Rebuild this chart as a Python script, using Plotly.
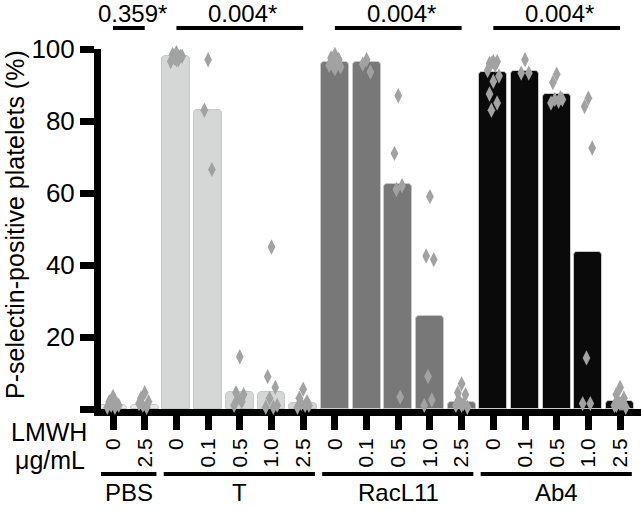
import plotly.graph_objects as go

# Groupes et concentrations de LMWH
GROUPS = ['PBS', 'T', 'RacL11', 'Ab4']
DOSES = {
    'PBS': ['0', '2.5'],
    'T': ['0', '0.1', '0.5', '1.0', '2.5'],
    'RacL11': ['0', '0.1', '0.5', '1.0', '2.5'],
    'Ab4': ['0', '0.1', '0.5', '1.0', '2.5'],
}
P_VALUES = ['0.359*', '0.004*', '0.004*', '0.004*']

# Hauteur des barres (%)
BARS = {
    'PBS': [1.0, 1.0],
    'T': [98, 83, 4.6, 4.8, 1.7],
    'RacL11': [96.5, 96.5, 62.5, 25.7, 2.0],
    'Ab4': [93.5, 94, 87.5, 43.7, 2.3],
}

# Valeurs individuelles (points)
POINTS = {
    'PBS': [[3.5, 2.0, 1.5, 1.0, 0.5, 0.5, 1.0, 2.5],
            [4.5, 3.0, 2.0, 1.0, 0.5, 1.5]],
    'T': [[99, 98.5, 98, 97.5, 97, 96.5, 98, 97],
          [97, 83, 66.5],
          [14.5, 4.5, 4, 3, 2, 1],
          [45, 9, 6, 3, 0.5, 0.5, 1],
          [5.5, 3, 2, 1.5, 1, 0.5, 1]],
    'RacL11': [[98.5, 97.5, 97, 96.5, 96, 95.5, 95, 94.5, 96, 97, 95.5, 96.5],
               [97, 95.8, 93.6],
               [87, 71, 62, 61, 3.3],
               [59, 42.5, 41.5, 9, 2.5, 1],
               [7, 4.5, 4, 2, 1.5, 1, 0.5, 1, 2]],
    'Ab4': [[96.5, 96, 96.5, 96, 95.5, 94, 92.5, 91, 87.5, 85, 83],
            [97, 93.3, 93.3],
            [93, 90.7, 86.5, 86, 85.5, 85, 86],
            [86.3, 84, 72.5, 14.2, 1.5, 1.5],
            [6, 4, 3, 2, 1.5, 1, 0.5, 1.5, 1]],
}

COLORS = {'PBS': '#e8e8e8', 'T': '#d5d6d6', 'RacL11': '#787878', 'Ab4': '#0a0a0a'}
FONT = 'Liberation Sans, Arial, sans-serif'

# bords de la zone de tracé, en pixels de la page
PLOT_TOP, PLOT_BOTTOM, PLOT_LEFT, PLOT_RIGHT = 49, 409, 101, 641


def py(ypix):
    return (PLOT_BOTTOM - ypix) / (PLOT_BOTTOM - PLOT_TOP)


def px(xpix):
    return (xpix - PLOT_LEFT) / (PLOT_RIGHT - PLOT_LEFT)


JITTER = [0, -0.12, 0.12, -0.06, 0.06, -0.18, 0.18]


def label(x, y, text, size, xref='paper', angle=0):
    fig.add_annotation(x=x, y=y, xref=xref, yref='paper', text=text, textangle=angle,
                       xanchor='center', yanchor='middle', showarrow=False,
                       font=dict(size=size, color='black', family=FONT))


fig = go.Figure()

pos = 0
tickvals, ticktext, spans = [], [], []
for g in GROUPS:
    xs = list(range(pos, pos + len(DOSES[g])))
    spans.append((xs[0], xs[-1]))
    tickvals += xs
    ticktext += DOSES[g]
    fig.add_trace(go.Bar(
        x=xs, y=BARS[g], width=0.88,
        marker=dict(color=COLORS[g], line=dict(color='#c8c8c8', width=1), cornerradius=4),
        showlegend=False
    ))
    for x, vals in zip(xs, POINTS[g]):
        fig.add_trace(go.Scatter(
            x=[x + JITTER[i % len(JITTER)] for i in range(len(vals))], y=vals,
            mode='markers', cliponaxis=False,
            marker=dict(symbol='diamond-tall', size=11, color='#a2a2a2'),
            showlegend=False
        ))
    pos += len(DOSES[g])

# Lignes et p-valeurs en haut, groupes en bas
for (a, b), g, p in zip(spans, GROUPS, P_VALUES):
    fig.add_shape(type='line', xref='x', yref='paper', x0=a, x1=b, y0=py(28), y1=py(28),
                  line=dict(color='black', width=4))
    label((a + b) / 2 + 0.1, py(14), p, 24, xref='x')
    fig.add_shape(type='line', xref='x', yref='paper', x0=a - 0.4, x1=b + 0.37,
                  y0=py(474), y1=py(474), line=dict(color='black', width=4))
    label((a + b) / 2, py(492), g, 24, xref='x')

label(px(49), py(432), 'LMWH', 25)
label(px(50), py(460), 'μg/mL', 25)
label(px(15), py(225), 'P-selectin-positive platelets (%)', 25, angle=-90)

fig.update_layout(
    width=641, height=510,
    margin=dict(l=PLOT_LEFT, r=0, t=PLOT_TOP, b=510 - PLOT_BOTTOM, pad=0, autoexpand=False),
    paper_bgcolor='white', plot_bgcolor='white',
    font=dict(family=FONT, color='black'),
    bargap=0,
)
fig.update_xaxes(
    range=[-0.38, 16.66], tickvals=tickvals, ticktext=ticktext, tickangle=-90,
    showline=True, linecolor='black', linewidth=7, ticks='outside', ticklen=14,
    tickwidth=7, tickcolor='black', showgrid=False, zeroline=False, automargin=False,
    tickfont=dict(size=21, family=FONT), layer='below traces'
)
fig.update_yaxes(
    range=[0, 100], tickvals=[0, 20, 40, 60, 80, 100],
    ticktext=['', '20', '40', '60', '80', '100'],
    showline=True, linecolor='black', linewidth=7, ticks='outside', ticklen=14,
    tickwidth=7, tickcolor='black', showgrid=False, zeroline=False, automargin=False,
    tickfont=dict(size=26, family=FONT), layer='below traces'
)

# la page HTML a une marge de 8px par défaut : on la supprime
fig.write_html("out.html", config={'displayModeBar': False},
               post_script="document.body.style.margin = '0';")
